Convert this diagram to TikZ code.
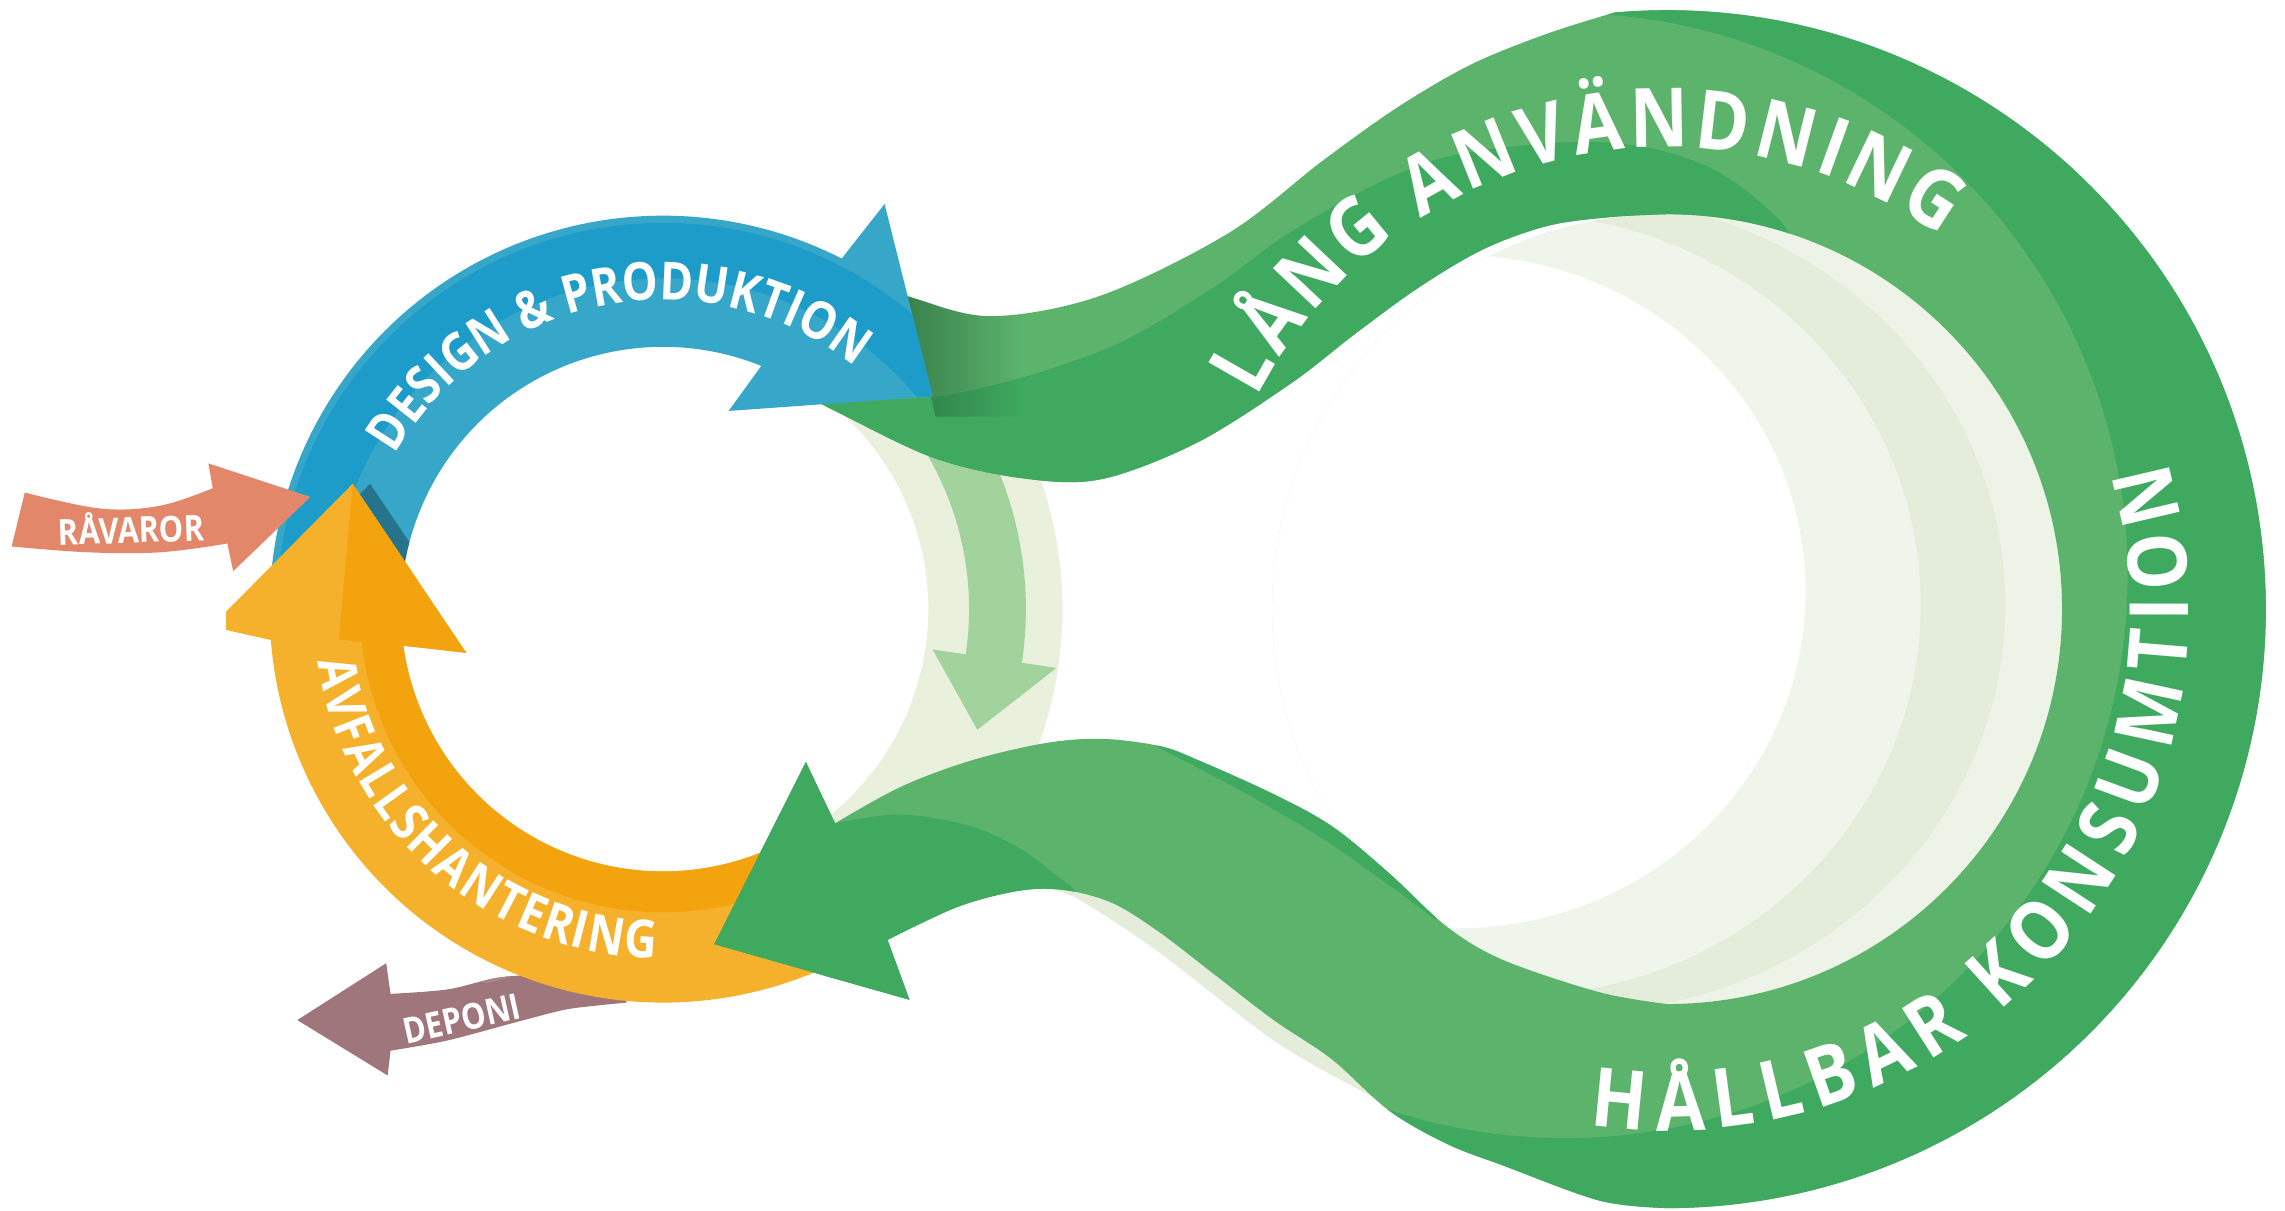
\documentclass[tikz,border=0pt]{standalone}
\usepackage{fontspec}
\newfontfamily\labfont{Open Sans}[FakeStretch=0.86]
\newfontfamily\bigfam{Open Sans}[FakeStretch=0.88]
\usetikzlibrary{fadings}
\definecolor{gdark}{HTML}{3FA95F}
\definecolor{glight}{HTML}{5CB36C}
\definecolor{gshadow}{HTML}{24633A}
\definecolor{bdark}{HTML}{1D9CC9}
\definecolor{blight}{HTML}{36A7C9}
\definecolor{olight}{HTML}{F5B12B}
\definecolor{odark}{HTML}{F2A30D}
\definecolor{coral}{HTML}{E3876A}
\definecolor{mauve}{HTML}{9F767B}
\definecolor{mauvel}{HTML}{AA868B}
\definecolor{pale}{HTML}{E9F1DC}
\definecolor{fadegreen}{HTML}{A3D39D}
\definecolor{paleA}{HTML}{EDF3E6}
\definecolor{paleB}{HTML}{E3EDD9}
\definecolor{paleC}{HTML}{EFF5EA}
\tikzfading[name=fadeRight, left color=transparent!0, right color=transparent!100]

\newdimen\ArcLen
\newcount\ArcIdx
% measure outside the picture: #1 list name, #2 radius of letter centres, #3 angle of first letter, #4 angle of last letter, #5 font, #6 letters
\newcommand\ArcPrep[6]{%
  \gdef\ArcSum{0}\gdef\ArcCnt{0}\gdef\ArcFirstW{0}\gdef\ArcLastW{0}%
  \foreach \ch in {#6}{%
    \setbox0=\hbox{#5\ch}\global\ArcLen=\wd0\relax
    \pgfmathsetmacro\ArcTmpW{\the\ArcLen/0.569055}%
    \pgfmathsetmacro\ArcTmpS{\ArcSum+\ArcTmpW}%
    \xdef\ArcSum{\ArcTmpS}%
    \pgfmathtruncatemacro\ArcTmpC{\ArcCnt+1}%
    \xdef\ArcCnt{\ArcTmpC}%
    \ifnum\ArcCnt=1 \xdef\ArcFirstW{\ArcTmpW}\fi
    \xdef\ArcLastW{\ArcTmpW}%
  }%
  \setbox0=\hbox{#5H}\global\ArcLen=\ht0\relax
  \pgfmathsetmacro\ArcCap{\the\ArcLen/0.569055}%
  \pgfmathsetmacro\ArcDir{ifthenelse(#4>#3,1,-1)}%
  \pgfmathsetmacro\ArcE{(abs(#4-#3)*pi/180*#2-(\ArcSum-\ArcFirstW/2-\ArcLastW/2))/(\ArcCnt-1)}%
  \pgfmathsetmacro\ArcBR{#2+\ArcDir*\ArcCap/2}%
  \pgfmathsetmacro\ArcS{-\ArcFirstW/2}%
  \xdef\ArcS{\ArcS}\xdef\ArcE{\ArcE}\xdef\ArcDir{\ArcDir}%
  \expandafter\xdef\csname ArcBR#1\endcsname{\ArcBR}%
  \gdef\ArcList{}%
  \foreach \ch in {#6}{%
    \setbox0=\hbox{#5\ch}\global\ArcLen=\wd0\relax
    \pgfmathsetmacro\ArcTmpW{\the\ArcLen/0.569055}%
    \pgfmathsetmacro\ArcA{#3+\ArcDir*(\ArcS+\ArcTmpW/2)/#2*180/pi}%
    \pgfmathsetmacro\ArcRot{\ArcA+90*\ArcDir}%
    \ifx\ArcList\empty
      \xdef\ArcList{\ArcA/\ArcRot/\unexpanded\expandafter{\ch}}%
    \else
      \xdef\ArcList{\unexpanded\expandafter{\ArcList},\ArcA/\ArcRot/\unexpanded\expandafter{\ch}}%
    \fi
    \pgfmathsetmacro\ArcTmpS{\ArcS+\ArcTmpW+\ArcE}%
    \xdef\ArcS{\ArcTmpS}%
  }%
  \expandafter\global\expandafter\let\csname ArcL#1\endcsname\ArcList
}
% place inside the picture: #1 centre, #2 list name, #3 font
\newcommand\ArcPlace[3]{%
  \expandafter\let\expandafter\ArcCurList\csname ArcL#2\endcsname
  \edef\ArcCurBR{\csname ArcBR#2\endcsname}%
  \foreach \a/\rr/\c in \ArcCurList {%
    \global\advance\ArcIdx by 1
    \node[name=ch\the\ArcIdx, anchor=base, inner sep=0pt, text=white, font={#3}, rotate=\rr] at ([shift={(\a:\ArcCurBR)}]#1) {\c};
  }%
}

\def\GreenPath{(588,640) -- plot[smooth, tension=0.55] coordinates {(588,640) (625,627) (680,614) (755,628) (843,671) (908,721) (960,758) (1010,787) (1062,808) (1108,822.4)}
 arc[start angle=95, end angle=-90, radius=411]
 -- plot[smooth, tension=0.55] coordinates {(1144,2) (1098,7) (1032,31) (993,46) (953,69) (914,104) (874,131) (835,161) (796,191) (764,211) (732,220) (701,220) (658,209) (609,186)}
 -- (624,145) -- (490,183) -- (553,308) -- (573,266)
 -- plot[smooth, tension=0.55] coordinates {(573,266) (618,291) (666,309) (717,321) (756,324) (796,319) (823,309) (874,286) (914,264) (953,232) (993,195) (1032,172) (1098,150) (1144,142)}
 arc[start angle=-90, end angle=90, radius=271]
 -- plot[smooth, tension=0.55] coordinates {(1144,684) (1105,682) (1062,676) (1018,660) (974,634) (930,602) (886,568) (821,527) (755,502) (700,503) (640,517) (575,548) (560,556)}
 -- cycle}
\def\BluePath{(178:270) arc[start angle=178, end angle=63, radius=270] -- (152,278) -- (185,146) -- (45,136) -- (68:180) arc[start angle=68, end angle=178, radius=180] -- cycle}
\def\OrangePath{(298:270) arc[start angle=298, end angle=184.5, radius=270] -- (-310,-12) -- (-213,86) -- (-135,-30) -- (188:180) arc[start angle=188, end angle=298, radius=180] -- cycle}
\def\DeponiPath{(204,131) -- (265,170) -- (268,149) -- plot[smooth] coordinates {(268,149) (307,152) (341,160) (375,163) (410,167) (430,170)} -- (430,143) -- plot[smooth] coordinates {(430,143) (410,141) (387,138) (352,129) (307,117) (268,110)} -- (266,93) -- cycle}

\tikzset{
  smalllab/.style={text=white, inner sep=0pt, font=\labfont\bfseries\fontsize{14}{14}\selectfont},
}
\newcommand\BigFont{\bigfam\bfseries\fontsize{32}{32}\selectfont}
\newcommand\MidFont{\labfont\bfseries\fontsize{20.5}{20.5}\selectfont}

\begin{document}%
\ArcPrep{lang}{337}{150.2}{56.9}{\BigFont}{L,Å,N,G,~,A,N,V,Ä,N,D,N,I,N,G}%
\ArcPrep{hall}{338}{264.5}{373.2}{\BigFont}{H,Å,L,L,B,A,R,~,K,O,N,S,U,M,T,I,O,N}%
\ArcPrep{design}{225}{147}{55}{\MidFont}{D,E,S,I,G,N,~,\&,~,P,R,O,D,U,K,T,I,O,N}%
\ArcPrep{avfall}{227}{191.2}{266.2}{\MidFont}{A,V,F,A,L,L,S,H,A,N,T,E,R,I,N,G}%
\begin{tikzpicture}[x=0.02cm, y=0.02cm]
\useasboundingbox (0,0) rectangle (1568,831);
\fill[white] (0,0) rectangle (1568,831);
\coordinate (C1) at (455,413);
\coordinate (C2) at (1144,413);

% pale right half of the left ring and the faded arrow
\begin{scope}[shift={(455,413)}]
  \fill[pale] (62:274) arc[start angle=62, end angle=-62, radius=274] -- (-62:182) arc[start angle=-62, end angle=62, radius=182] -- cycle;
  \fill[fadegreen] (35:249) arc[start angle=35, end angle=-8.5, radius=249] -- (-8.5:273) -- (-21:231) -- (-8.5:187) -- (-8.5:210) arc[start angle=-8.5, end angle=35, radius=210] -- cycle;
\end{scope}

% pale crescents inside the big loop
\begin{scope}
  \clip (C2) circle[radius=271];
  \fill[paleA] (C2) circle[radius=272];
  \fill[paleB] (1080,416) ellipse[x radius=296, y radius=280];
  \fill[paleC] (1040,416) ellipse[x radius=278, y radius=268];
  \fill[white] (1000,425) ellipse[x radius=239, y radius=231];
\end{scope}

% pale ghost under the lower ribbon
\fill[paleB] plot[smooth] coordinates {(715,222) (740,214) (796,177) (874,117) (933,83) (978,60)} -- plot[smooth] coordinates {(978,75) (914,118) (835,172) (764,222) (715,228)} -- cycle;

% green loop
\begin{scope}
  \clip \GreenPath;
  \fill[glight] (400,-10) rectangle (1600,850);
  \begin{scope}
    \clip (900,-10) rectangle (1600,850);
    \fill[gdark, even odd rule] (850,-20) rectangle (1610,860) (1074,436) circle[radius=386];
  \end{scope}
  \fill[gdark] plot[smooth, tension=0.6] coordinates {(540,553) (560,558) (650,560) (755,590) (830,632) (886,672) (960,712) (1018,728) (1105,733) (1171,717) (1219,682) (1240,650)} -- (1219,560) -- (900,450) -- (540,450) -- cycle;
  \fill[gdark] (540,400) -- (573,266) -- plot[smooth, tension=0.6] coordinates {(573,266) (618,272) (666,264) (701,248) (725,230) (737,220) (745,200)} -- (745,80) -- (430,80) -- (430,400) -- cycle;
  \fill[gdark] plot[smooth] coordinates {(790,325) (840,320) (890,300) (940,265) (995,205)} -- plot[smooth] coordinates {(985,200) (950,226) (910,254) (870,278) (830,300) (795,318)} -- cycle;
  \fill[gshadow, path fading=fadeRight, fill opacity=0.75] (605,700) -- (642,545) -- (700,545) -- (700,700) -- cycle;
\end{scope}

% green labels
\ArcPlace{C2}{lang}{\BigFont}
\ArcPlace{C2}{hall}{\BigFont}

% Deponi arrow (under the orange ring)
\begin{scope}
  \clip \DeponiPath;
  \fill[mauve] (190,80) rectangle (440,180);
  \fill[mauvel] plot[smooth] coordinates {(330,200) (330,158) (360,163) (400,160) (440,150)} -- (440,200) -- cycle;
\end{scope}
\node[smalllab, name=deponi, rotate=12.5] at (317,132) {DEPONI};

% blue and orange ring
\begin{scope}[shift={(455,413)}]
  \begin{scope}
    \clip \BluePath;
    \fill[blight] (-300,-300) rectangle (300,300);
    \fill[bdark, even odd rule] (0,0) circle[radius=265] (0,0) circle[radius=227];
    \fill[black, opacity=0.3] (-298,-12) -- (-201,86) -- (-123,-30) -- cycle;
  \end{scope}
  \begin{scope}
    \clip \OrangePath;
    \fill[olight] (-300,-300) rectangle (300,300);
    \fill[odark, even odd rule] (0,0) circle[radius=208] (0,0) circle[radius=170];
    \fill[odark] (-213,86) -- (-222.5,-21) -- (-135,-30) -- cycle;
  \end{scope}
\end{scope}

% green arrowhead on top of the orange end
\fill[gdark] (624,145) -- (490,183) -- (553,308) -- (573,266) -- (609,186) -- cycle;

% Raavaror arrow
\fill[coral] plot[smooth, tension=0.6] coordinates {(17,493) (69,482) (110,484) (146,496)} -- (143,513) -- (213,490) -- (160,439) -- (156,458) -- plot[smooth, tension=0.6] coordinates {(156,458) (110,452) (60,452) (8,456)} -- cycle;
\node[smalllab, name=ravaror, rotate=2] at (90,469) {RÅVAROR};

% ring labels
\ArcPlace{C1}{design}{\MidFont}
\ArcPlace{C1}{avfall}{\MidFont}
\end{tikzpicture}%
\end{document}
